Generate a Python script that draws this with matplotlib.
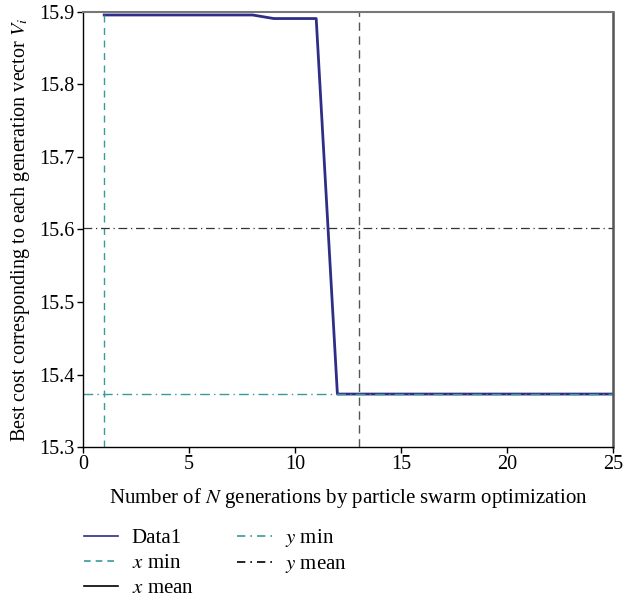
import numpy as np
import matplotlib.pyplot as plt
from matplotlib.lines import Line2D

plt.rcParams['font.family'] = ['Liberation Serif', 'DejaVu Serif']
plt.rcParams['mathtext.fontset'] = 'stix'

# best cost per generation
generations = list(range(1, 26))
best_cost = [15.8956] * 8 + [15.8907] * 3 + [15.3731] * 14

x_min = min(generations)
x_mean = np.mean(generations)
y_min = min(best_cost)
y_mean = np.mean(best_cost)

fig = plt.figure(figsize=(6.25, 6.05), dpi=100)
ax = fig.add_axes([0.1328, 0.261, 0.848, 0.7195])

ax.plot(generations, best_cost, color='#2e2e86', lw=2.0)
ax.axvline(x_min, color='#3a9a9a', ls=(0, (5, 4)), lw=1.0)
ax.axvline(x_mean, color='#555555', ls=(0, (6, 4)), lw=1.0)
ax.axhline(y_mean, color='#333333', ls=(0, (7, 3, 1, 3)), lw=0.9)
ax.axhline(y_min, color='#3a9a9a', ls=(0, (7, 3, 1, 3)), lw=1.0)

ax.set_xlim(0, 25)
ax.set_ylim(15.3, 15.9)
ax.set_xticks([0, 5, 10, 15, 20, 25])
ax.set_yticks([15.3, 15.4, 15.5, 15.6, 15.7, 15.8, 15.9])
ax.set_yticklabels(['15.3', '15.4', '15.5', '15.6', '15.7', '15.8', '15.9'])
ax.tick_params(direction='out', length=4, width=1, labelsize=14.5, colors='black', pad=2)
ax.spines['right'].set_color('#555555')
ax.spines['top'].set_color('#777777')
ax.spines['right'].set_linewidth(1.8)
ax.spines['top'].set_linewidth(1.5)
ax.spines['left'].set_linewidth(1.0)
ax.spines['bottom'].set_linewidth(1.0)

ax.set_xlabel('Number of $N$ generations by particle swarm optimization', fontsize=15, labelpad=8)
ax.set_ylabel('Best cost corresponding to each generation vector $V_i$', fontsize=14.5, labelpad=5)

handles = [
    Line2D([], [], color='#2e2e86', lw=1.2),
    Line2D([], [], color='#3a9a9a', lw=1.2, ls=(0, (4, 3))),
    Line2D([], [], color='black', lw=1.2),
    Line2D([], [], color='#3a9a9a', lw=1.2, ls=(0, (5, 3, 1, 3))),
    Line2D([], [], color='black', lw=1.2, ls=(0, (5, 3, 1, 3))),
]
labels = ['Data1', '$x$ min', '$x$ mean', '$y$ min', '$y$ mean']
fig.legend(handles, labels, loc='upper left', bbox_to_anchor=(0.134, 0.129),
           ncol=2, frameon=False, fontsize=15, handlelength=1.65,
           handletextpad=0.65, columnspacing=2.1, labelspacing=0.27,
           borderaxespad=0.0, borderpad=0.0)

fig.savefig('out.png', dpi=100)
